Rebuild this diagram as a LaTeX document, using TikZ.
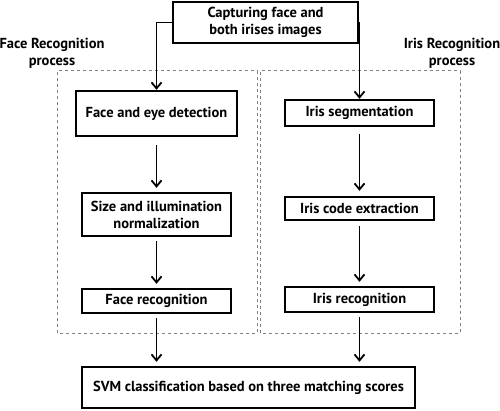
\documentclass[tikz,border=0pt]{standalone}
\usepackage{fontspec}
\setmainfont{PT Sans}
\usetikzlibrary{arrows.meta}

\begin{document}
\begin{tikzpicture}[x=1pt,y=1pt,
  stepbox/.style={draw, line width=2.4pt, font=\bfseries\fontsize{14.5}{17}\selectfont, align=center, inner sep=2pt},
  flow/.style={line width=1.8pt, -{Straight Barb[length=6pt,width=10pt]}},
  group/.style={draw=gray, dashed, line width=1pt},
  grouplabel/.style={font=\bfseries\fontsize{14.5}{17}\selectfont, align=center}]
  \useasboundingbox (0,0) rectangle (500,410);

  % --------------------
  % Dashed process frames
  % --------------------
  \draw[group] (57,77) rectangle (257,339);
  \draw[group] (260,77) rectangle (460,339);
  \node[grouplabel] (facelabel) at (52,357) {Face Recognition\\process};
  \node[grouplabel] (irislabel) at (452,357) {Iris Recognition\\process};

  % --------------------
  % Input
  % --------------------
  \node[stepbox, minimum width=185, minimum height=41] (capture) at (265.5,387.5) {Capturing face and\\both irises images};

  % --------------------
  % Face branch
  % --------------------
  \node[stepbox, minimum width=161, minimum height=45] (detect) at (156.5,296.5) {Face and eye detection};
  \node[stepbox, minimum width=149, minimum height=43] (norm) at (156.5,195.5) {Size and illumination\\normalization};
  \node[stepbox, minimum width=149, minimum height=24] (facerec) at (156.5,109) {Face recognition};

  % --------------------
  % Iris branch
  % --------------------
  \node[stepbox, minimum width=149, minimum height=26] (segment) at (359.5,297) {Iris segmentation};
  \node[stepbox, minimum width=149, minimum height=23] (code) at (359.5,201.5) {Iris code extraction};
  \node[stepbox, minimum width=149, minimum height=25] (irisrec) at (359.5,110.5) {Iris recognition};

  % --------------------
  % Fusion
  % --------------------
  \node[stepbox, minimum width=333, minimum height=41] (svm) at (248.5,22.5) {SVM classification based on three matching scores};

  % Connectors
  \draw[flow] (capture.west) -| (detect.north);
  \draw[flow] (capture.east) -| (segment.north);
  \draw[flow] ([yshift=-8pt]detect.south) -- ([yshift=4pt]norm.north);
  \draw[flow] ([yshift=-4pt]norm.south) -- ([yshift=4pt]facerec.north);
  \draw[flow] ([yshift=-7pt]segment.south) -- ([yshift=5pt]code.north);
  \draw[flow] ([yshift=-5pt]code.south) -- ([yshift=4pt]irisrec.north);
  \draw[flow] ([yshift=-4pt]facerec.south) -- ([yshift=4pt]svm.north -| facerec.south);
  \draw[flow] ([yshift=-4pt]irisrec.south) -- ([yshift=4pt]svm.north -| irisrec.south);
\end{tikzpicture}
\end{document}
